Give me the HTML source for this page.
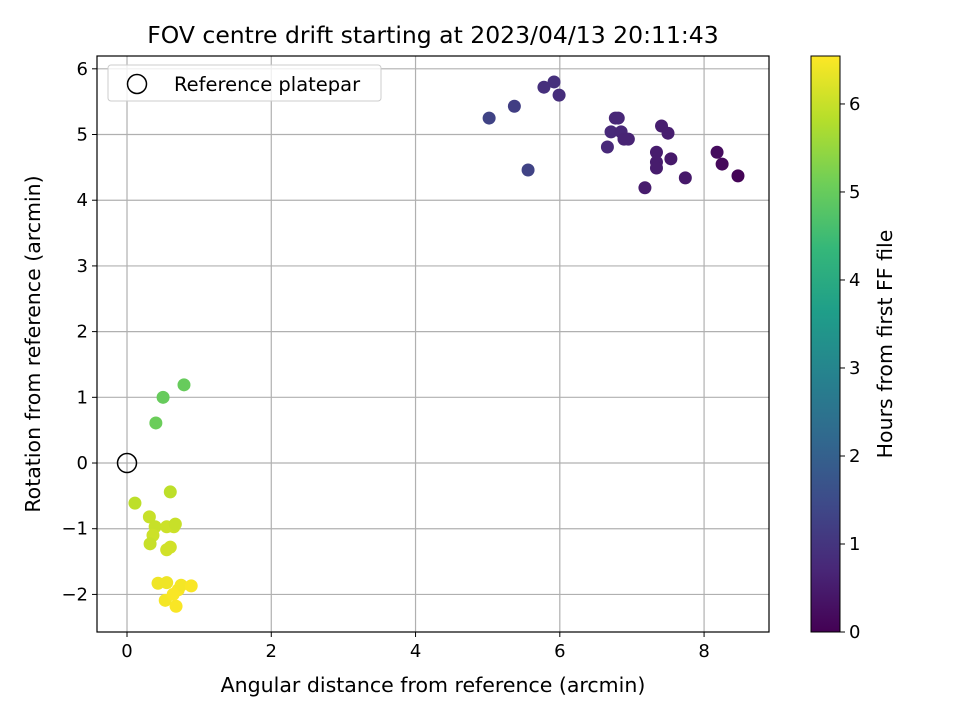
<!DOCTYPE html>
<html><head><meta charset="utf-8"><style>
body{margin:0;background:#fff;font-family:"Liberation Sans","DejaVu Sans",sans-serif;}
</style></head><body>
<svg id="c" width="960" height="720" xmlns="http://www.w3.org/2000/svg" font-family="DejaVu Sans, Liberation Sans, sans-serif"></svg>
<script>
const xs=[5.02,5.37,5.56,5.78,5.92,5.99,6.66,6.71,6.77,6.81,6.85,6.89,6.95,7.18,7.34,7.34,7.34,7.41,7.50,7.54,7.74,8.18,8.25,8.47,
0.79,0.50,0.40,0.60,0.11,0.31,0.39,0.36,0.32,0.55,0.65,0.67,0.55,0.60,0.43,0.55,0.53,0.68,0.71,0.75,0.89,0.64];
const ys=[5.25,5.43,4.46,5.72,5.80,5.60,4.81,5.04,5.25,5.25,5.04,4.93,4.93,4.19,4.73,4.58,4.49,5.13,5.02,4.63,4.34,4.73,4.55,4.37,
1.19,1.00,0.61,-0.44,-0.61,-0.82,-0.97,-1.10,-1.23,-0.97,-0.97,-0.93,-1.32,-1.28,-1.83,-1.82,-2.09,-2.18,-1.93,-1.86,-1.87,-2.0];
const hours=[1.3,1.2,1.3,0.9,0.9,0.85,0.75,0.75,0.7,0.7,0.7,0.65,0.65,0.5,0.5,0.5,0.5,0.55,0.55,0.45,0.45,0.2,0.15,0.05,
5.0,5.0,5.05,5.9,5.9,6.0,6.0,6.05,6.0,6.05,6.05,6.0,6.1,6.1,6.4,6.4,6.45,6.5,6.5,6.45,6.5,6.5];
const xTicks=[0,2,4,6,8], yTicks=[-2,-1,0,1,2,3,4,5,6], cTicks=[0,1,2,3,4,5,6];
const NS="http://www.w3.org/2000/svg", svg=document.getElementById('c');
const L=97,R=769,T=56,B=632, xmin=-0.416,xmax=8.9, ymin=-2.572,ymax=6.195, cmax=6.545;
const X=v=>L+(v-xmin)/(xmax-xmin)*(R-L), Y=v=>B-(v-ymin)/(ymax-ymin)*(B-T), CY=v=>B-v/cmax*(B-T);
function el(t,a,p){const e=document.createElementNS(NS,t);for(const k in a)e.setAttribute(k,a[k]);(p||svg).appendChild(e);return e;}
const vs=[[68,1,84],[72,40,120],[62,74,137],[49,104,142],[38,130,142],[31,158,137],[53,183,121],[110,206,88],[181,222,43],[253,231,37]];
function vir(t){t=Math.max(0,Math.min(1,t))*9;const i=Math.min(8,Math.floor(t)),f=t-i;const c=vs[i].map((v,k)=>Math.round(v+(vs[i+1][k]-v)*f));return `rgb(${c})`;}
let e;
e=el('text',{x:433,y:43,'font-size':23.5,'text-anchor':'middle'});e.textContent='FOV centre drift starting at 2023/04/13 20:11:43';

const g=el('g',{});
xTicks.forEach(v=>{el('line',{x1:X(v),x2:X(v),y1:T,y2:B,stroke:'#b0b0b0','stroke-width':1.2},g);
 el('line',{x1:X(v),x2:X(v),y1:B,y2:B+5,stroke:'#000'});
 e=el('text',{x:X(v),y:B+25,'font-size':18,'text-anchor':'middle'});e.textContent=v;
 });
yTicks.forEach(v=>{el('line',{x1:L,x2:R,y1:Y(v),y2:Y(v),stroke:'#b0b0b0','stroke-width':1.2},g);
 el('line',{x1:L-5,x2:L,y1:Y(v),y2:Y(v),stroke:'#000'});
 e=el('text',{x:L-9,y:Y(v)+6,'font-size':18,'text-anchor':'end'});e.textContent=v<0?'\u2212'+(-v):v;
 });
const pts=el('g',{});
xs.forEach((v,i)=>{e=el('circle',{cx:X(v),cy:Y(ys[i]),r:6.5,fill:vir(hours[i]/cmax)},pts);
 });
e=el('circle',{cx:X(0),cy:Y(0),r:9.5,fill:'none',stroke:'#000','stroke-width':1.5});

e=el('rect',{x:L,y:T,width:R-L,height:B-T,fill:'none',stroke:'#000','stroke-width':1.2});

const lg=el('g',{});
el('rect',{x:108,y:65,width:273,height:36,rx:3,fill:'#fff','fill-opacity':0.8,stroke:'#ccc'},lg);
el('circle',{cx:137,cy:84,r:9.5,fill:'none',stroke:'#000','stroke-width':1.5},lg);
e=el('text',{x:174,y:91,'font-size':19.5},lg);e.textContent='Reference platepar';
e=el('text',{x:433,y:692,'font-size':20.5,'text-anchor':'middle'});e.textContent='Angular distance from reference (arcmin)';

e=el('text',{x:40,y:344,'font-size':20.5,'text-anchor':'middle',transform:'rotate(-90 40 344)'});e.textContent='Rotation from reference (arcmin)';

const cb=el('g',{});
const defs=el('defs',{});const lgd=el('linearGradient',{id:'vg',x1:0,y1:1,x2:0,y2:0},defs);
vs.forEach((c,i)=>el('stop',{offset:i/9,'stop-color':`rgb(${c})`},lgd));
el('rect',{x:811,y:T,width:29,height:B-T,fill:'url(#vg)',stroke:'#000'},cb);
cTicks.forEach(v=>{el('line',{x1:840,x2:845,y1:CY(v),y2:CY(v),stroke:'#000'},cb);
 e=el('text',{x:849,y:CY(v)+6,'font-size':18},cb);e.textContent=v;});
e=el('text',{x:892,y:344,'font-size':20.5,'text-anchor':'middle',transform:'rotate(-90 892 344)'});e.textContent='Hours from first FF file';

</script>
</body></html>
